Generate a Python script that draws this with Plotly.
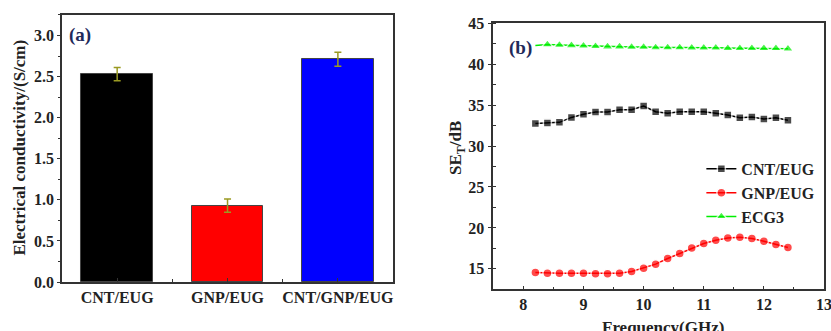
import plotly.graph_objects as go

# ---- panel (a) data ----
categories = ["CNT/EUG", "GNP/EUG", "CNT/GNP/EUG"]
conductivity = [2.53, 0.93, 2.71]
conductivity_err = [0.08, 0.08, 0.085]
bar_colors = ["#000000", "#ff0000", "#0000ff"]

# ---- panel (b) data ----
frequency = [8.2, 8.4, 8.6, 8.8, 9.0, 9.2, 9.4, 9.6, 9.8, 10.0, 10.2,
             10.4, 10.6, 10.8, 11.0, 11.2, 11.4, 11.6, 11.8, 12.0, 12.2, 12.4]
se_cnt = [32.75, 32.83, 32.9, 33.5, 33.9, 34.15, 34.15, 34.45, 34.45, 34.9, 34.2,
          34.0, 34.2, 34.2, 34.2, 34.0, 33.8, 33.45, 33.55, 33.3, 33.45, 33.15]
se_gnp = [14.55, 14.47, 14.47, 14.47, 14.47, 14.4, 14.4, 14.47, 14.67, 15.08, 15.57,
          16.26, 16.87, 17.56, 18.09, 18.5, 18.78, 18.86, 18.7, 18.37, 17.97, 17.6]
se_ecg3 = [42.3, 42.4, 42.35, 42.3, 42.25, 42.2, 42.15, 42.15, 42.1, 42.1, 42.05,
           42.05, 42.05, 42.0, 42.0, 42.0, 41.95, 41.95, 41.95, 41.95, 41.95, 41.9]
series_names = ["CNT/EUG", "GNP/EUG", "ECG3"]

FONT = "Liberation Serif"
AX = "#333333"
TXT = "#222222"
LBL = "#1f2a5a"

fig = go.Figure()

fig.add_trace(go.Bar(
    x=list(range(len(categories))), y=conductivity,
    width=0.65,
    marker=dict(color=bar_colors, line=dict(color="#444444", width=1)),
    error_y=dict(type="data", array=conductivity_err, color="#9a9a22",
                 thickness=1.5, width=3.5),
    xaxis="x", yaxis="y", showlegend=False,
))

styles = [("#000000", "square", 8), ("#ff0000", "circle", 9), ("#00ee00", "triangle-up", 10)]
for name, vals, (col, sym, sz) in zip(series_names, [se_cnt, se_gnp, se_ecg3], styles):
    sizes = [sz] * len(frequency)
    if name == "ECG3":
        sizes[0] = 0
    fig.add_trace(go.Scatter(
        x=frequency, y=vals, name=f"<b>{name}</b>", mode="lines+markers",
        line=dict(color=col, width=1.5),
        marker=dict(symbol=sym, size=sizes, color=col,
                    line=dict(color="white", width=1.5)),
        xaxis="x2", yaxis="y2",
    ))

tickfont = dict(family=FONT, size=16, color=TXT)
common = dict(showline=True, linecolor=AX, linewidth=1.5, mirror=True,
              showgrid=False, zeroline=False, tickfont=tickfont,
              tickcolor=AX, tickwidth=1.2, automargin=False,
              ticklabeloverflow="allow")
bold = dict(tickprefix="<b>", ticksuffix="</b>")

fig.update_layout(
    template="none",
    width=831, height=331,
    margin=dict(l=0, r=0, t=0, b=0, autoexpand=False),
    paper_bgcolor="white", plot_bgcolor="white",
    font=dict(family=FONT, color=TXT),
    bargap=0,
    xaxis=dict(domain=[0.0746, 0.473], anchor="y", range=[-0.5, 2.5],
               tickmode="array", tickvals=list(range(len(categories))),
               ticktext=[f"<b>{c}</b>" for c in categories],
               ticks="inside", ticklen=4,
               minor=dict(tickvals=[0.5, 1.5], ticks="inside", ticklen=3,
                          tickcolor=AX),
               **common),
    yaxis=dict(domain=[0.148, 0.9547], anchor="x", range=[0, 3.25],
               dtick=0.5, tickformat=".1f", ticks="outside", ticklen=3,
               minor=dict(dtick=0.25, ticks="outside", ticklen=2, tickcolor=AX),
               **bold, **common),
    xaxis2=dict(domain=[0.5936, 0.9916], anchor="y2", range=[7.5, 13],
                dtick=1, ticks="inside", ticklen=4,
                minor=dict(dtick=0.5, ticks="inside", ticklen=3, tickcolor=AX),
                **bold, **common),
    yaxis2=dict(domain=[0.126, 0.9296], anchor="x2", range=[12.5, 45],
                dtick=5, ticks="outside", ticklen=4,
                minor=dict(dtick=2.5, ticks="inside", ticklen=3, tickcolor=AX),
                **bold, **common),
    legend=dict(x=0.844, y=0.541, xanchor="left", yanchor="top",
                bgcolor="rgba(0,0,0,0)", tracegroupgap=0,
                font=dict(family=FONT, size=16, color=TXT),
                itemwidth=30),
    annotations=[
        dict(text="<b>(a)</b>", x=0.081, y=0.893, xref="paper", yref="paper",
             xanchor="left", yanchor="middle", showarrow=False,
             font=dict(family=FONT, size=19, color=LBL)),
        dict(text="<b>(b)</b>", x=0.61, y=0.855, xref="paper", yref="paper",
             xanchor="left", yanchor="middle", showarrow=False,
             font=dict(family=FONT, size=19, color=LBL)),
        dict(text="<b>Electrical conductivity/(S/cm)</b>", x=0.024, y=0.554,
             xref="paper", yref="paper", textangle=-90, showarrow=False,
             xanchor="center", yanchor="middle",
             font=dict(family=FONT, size=17, color=TXT)),
        dict(text="<b>SE<sub>T</sub>/dB</b>", x=0.55, y=0.553,
             xref="paper", yref="paper", textangle=-90, showarrow=False,
             xanchor="center", yanchor="middle",
             font=dict(family=FONT, size=17, color=TXT)),
        dict(text="<b>Frequency(GHz)</b>", x=0.798, y=0.045,
             xref="paper", yref="paper", showarrow=False,
             xanchor="center", yanchor="top",
             font=dict(family=FONT, size=17, color=TXT)),
    ],
)

fig.write_html("out.html",
               config={"displayModeBar": False},
               post_script="document.body.style.margin='0px';")
